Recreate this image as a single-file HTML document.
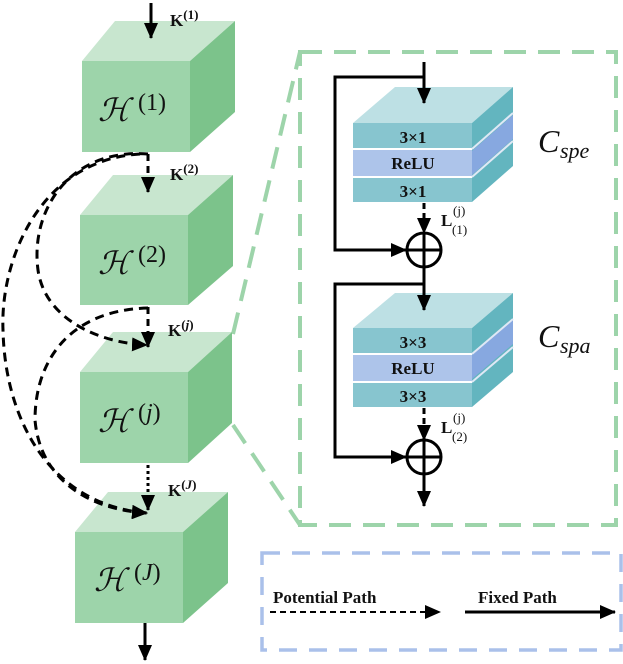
<!DOCTYPE html>
<html><head><meta charset="utf-8"><style>
html,body{margin:0;padding:0;background:#fff;}
svg{display:block;}
text{font-family:"Liberation Serif","DejaVu Serif",serif;}
</style></head><body>
<svg width="623" height="664" viewBox="0 0 623 664" xmlns="http://www.w3.org/2000/svg">
<defs>
<marker id="ah2" markerWidth="16" markerHeight="14" refX="15" refY="7" orient="auto" markerUnits="userSpaceOnUse"><path d="M0,0 L16,7 L0,14 z" fill="#000"/></marker>
</defs>

<g stroke="#9dd4aa" stroke-width="4" stroke-dasharray="22,12" fill="none">
<line x1="233" y1="334" x2="300" y2="52"/>
<line x1="233" y1="425" x2="300" y2="525"/>
<rect x="300" y="52" width="316" height="473"/>
</g>
<rect x="262" y="553" width="359" height="97" fill="none" stroke="#aac0ea" stroke-width="3.5" stroke-dasharray="18,12"/>

<g>
<polygon points="82,61 115,21 235,21 190,61" fill="#c8e6cf"/>
<polygon points="190,61 235,21 235,112 190,152" fill="#7cc38b"/>
<rect x="82" y="61" width="108" height="91" fill="#9dd4aa"/>
<polygon points="80,215 113,175 233,175 188,215" fill="#c8e6cf"/>
<polygon points="188,215 233,175 233,266 188,305" fill="#7cc38b"/>
<rect x="80" y="215" width="108" height="90" fill="#9dd4aa"/>
<polygon points="80,372 113,332 232,332 188,372" fill="#c8e6cf"/>
<polygon points="188,372 232,332 232,423 188,463" fill="#7cc38b"/>
<rect x="80" y="372" width="108" height="91" fill="#9dd4aa"/>
<polygon points="75,532 108,492 228,492 183,532" fill="#c8e6cf"/>
<polygon points="183,532 228,492 228,583 183,623" fill="#7cc38b"/>
<rect x="75" y="532" width="108" height="91" fill="#9dd4aa"/>
</g>
<g font-size="32" font-style="italic" fill="#111">
<text x="98" y="121">ℋ</text><text x="98" y="274">ℋ</text><text x="98" y="432">ℋ</text><text x="94" y="591">ℋ</text>
</g>
<g font-size="24" fill="#111">
<text x="138" y="110">(1)</text><text x="138" y="262">(2)</text><text x="138" y="420">(<tspan font-style="italic">j</tspan>)</text><text x="134" y="580">(<tspan font-style="italic">J</tspan>)</text>
</g>
<g font-size="17" font-weight="bold" fill="#111">
<text x="170" y="26">K<tspan font-size="13" dy="-7">(1)</tspan></text>
<text x="170" y="180">K<tspan font-size="13" dy="-7">(2)</tspan></text>
<text x="168" y="336">K<tspan font-size="13" dy="-7">(<tspan font-style="italic">j</tspan>)</tspan></text>
<text x="168" y="496">K<tspan font-size="13" dy="-7">(<tspan font-style="italic">J</tspan>)</tspan></text>
</g>

<g stroke="#000" stroke-width="3" fill="none">
<line x1="151" y1="3" x2="151" y2="38" marker-end="url(#ah2)"/>
<line x1="145" y1="623" x2="145" y2="660" marker-end="url(#ah2)"/>
<line x1="148" y1="154" x2="148" y2="192" stroke-dasharray="7,5" marker-end="url(#ah2)"/>
<line x1="148" y1="307" x2="148" y2="347" stroke-dasharray="7,5" marker-end="url(#ah2)"/>
<line x1="148" y1="465" x2="148" y2="510" stroke-dasharray="3,3" marker-end="url(#ah2)"/>
<path d="M148,154 C70,148 30,210 38,270 C45,320 100,343 147,345" stroke-dasharray="9,6" marker-end="url(#ah2)"/>
<path d="M140,154 C40,160 0,260 3,330 C5,420 50,505 147,513" stroke-dasharray="9,6" marker-end="url(#ah2)"/>
<path d="M148,308 C70,310 35,360 35,420 C40,480 90,510 147,513" stroke-dasharray="9,6" marker-end="url(#ah2)"/>
</g>

<g>
<polygon points="353,123 395,87 513,87 472,123" fill="#bde0e4"/>
<polygon points="472,123 513,87 513,166 472,202" fill="#63b5bf"/>
<polygon points="472,151 513,115 513,139 472,175" fill="#87a8e0"/>
<rect x="353" y="123" width="119" height="25" fill="#87c5cf"/>
<rect x="353" y="150" width="119" height="26" fill="#adc4ea"/>
<rect x="353" y="178" width="119" height="24" fill="#87c5cf"/>
<line x1="472" y1="149" x2="513" y2="113" stroke="#dfe8f5" stroke-width="2"/>
<line x1="472" y1="177" x2="513" y2="141" stroke="#dfe8f5" stroke-width="2"/>
</g>
<g>
<polygon points="353,328 395,293 513,293 472,328" fill="#bde0e4"/>
<polygon points="472,328 513,293 513,372 472,407" fill="#63b5bf"/>
<polygon points="472,355 513,320 513,344 472,379" fill="#87a8e0"/>
<rect x="353" y="328" width="119" height="25" fill="#87c5cf"/>
<rect x="353" y="355" width="119" height="26" fill="#adc4ea"/>
<rect x="353" y="383" width="119" height="24" fill="#87c5cf"/>
<line x1="472" y1="354" x2="513" y2="319" stroke="#dfe8f5" stroke-width="2"/>
<line x1="472" y1="382" x2="513" y2="347" stroke="#dfe8f5" stroke-width="2"/>
</g>
<g font-size="17" font-weight="bold" fill="#111" text-anchor="middle">
<text x="413" y="143">3×1</text><text x="413" y="169">ReLU</text><text x="413" y="197">3×1</text>
<text x="413" y="348">3×3</text><text x="413" y="374">ReLU</text><text x="413" y="402">3×3</text>
</g>

<g stroke="#000" stroke-width="3" fill="none">
<line x1="424" y1="62" x2="424" y2="103" marker-end="url(#ah2)"/>
<polyline points="424,77 335,77 335,250 406,250" marker-end="url(#ah2)"/>
<line x1="424" y1="203" x2="424" y2="233" stroke-dasharray="6,4" marker-end="url(#ah2)"/>
<circle cx="424" cy="250" r="17"/>
<line x1="424" y1="233" x2="424" y2="267"/><line x1="407" y1="250" x2="441" y2="250"/>
<line x1="424" y1="267" x2="424" y2="310" marker-end="url(#ah2)"/>
<polyline points="424,284 335,284 335,457 406,457" marker-end="url(#ah2)"/>
<line x1="424" y1="408" x2="424" y2="440" stroke-dasharray="6,4" marker-end="url(#ah2)"/>
<circle cx="424" cy="457" r="17"/>
<line x1="424" y1="440" x2="424" y2="474"/><line x1="407" y1="457" x2="441" y2="457"/>
<line x1="424" y1="474" x2="424" y2="506" marker-end="url(#ah2)"/>
</g>
<g font-size="17" font-weight="bold" fill="#111">
<text x="441" y="226">L</text><text x="453" y="215" font-size="13" font-weight="normal">(j)</text><text x="452" y="234" font-size="13" font-weight="normal">(1)</text>
<text x="441" y="433">L</text><text x="453" y="422" font-size="13" font-weight="normal">(j)</text><text x="452" y="441" font-size="13" font-weight="normal">(2)</text>
</g>
<g fill="#111" font-style="italic">
<text x="538" y="152" font-size="32">C</text><text x="560" y="158" font-size="22">spe</text>
<text x="538" y="347" font-size="32">C</text><text x="560" y="353" font-size="22">spa</text>
</g>

<g font-size="17" font-weight="bold" fill="#111">
<text x="273" y="603">Potential Path</text>
<text x="478" y="603">Fixed Path</text>
</g>
<line x1="270" y1="612" x2="440" y2="612" stroke="#000" stroke-width="2" stroke-dasharray="6,4" marker-end="url(#ah2)"/>
<line x1="465" y1="612" x2="615" y2="612" stroke="#000" stroke-width="3" marker-end="url(#ah2)"/>
</svg>
</body></html>
